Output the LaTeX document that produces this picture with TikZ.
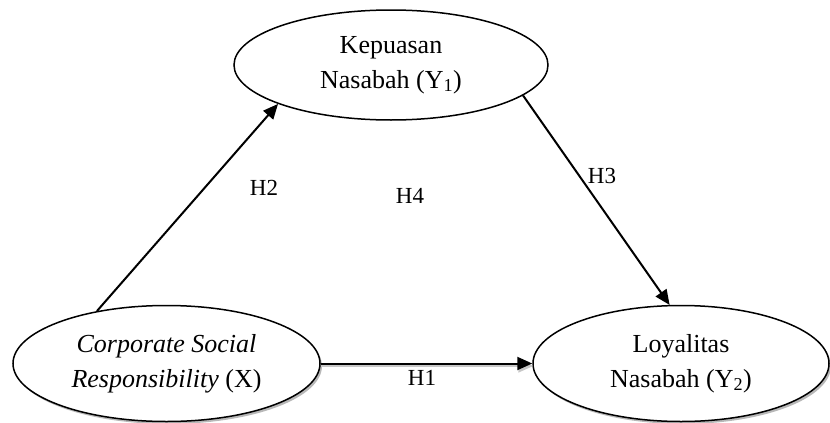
\documentclass[tikz,border=0pt]{standalone}
\usepackage{fontspec}
\setmainfont{Liberation Serif}
\usetikzlibrary{shapes.geometric,arrows.meta,shadows}
\begin{document}
\begin{tikzpicture}[x=1pt,y=-1pt,
  var/.style={ellipse,draw,line width=1.5pt,fill=white,inner sep=0pt,align=center,
    font=\fontsize{26}{35}\selectfont},
  shad/.style={drop shadow={shadow xshift=2pt,shadow yshift=-2.5pt,fill=black!28,opacity=1}},
  arr/.style={line width=2pt,-{Triangle[length=15pt,width=13pt]}},
  arrshadow/.style={line width=1.6pt,draw=black!22,-{Triangle[length=15pt,width=13pt]}},
  lab/.style={font=\fontsize{23}{28}\selectfont}]
\useasboundingbox (0,0) rectangle (830,423);
\node[var, minimum width=314pt, minimum height=110pt] (kep) at (391,65)
  {Kepuasan\\Nasabah (Y\textsubscript{1})};
\node[var, shad, minimum width=307pt, minimum height=116pt] (csr) at (166.5,363.5)
  {\textit{Corporate Social}\\\textit{Responsibility} (X)};
\node[var, shad, minimum width=296pt, minimum height=116pt] (loy) at (681,363.5)
  {Loyalitas\\Nasabah (Y\textsubscript{2})};
\coordinate (h1s) at ([yshift=-2.5pt]csr.east);
\coordinate (h1e) at ([yshift=-2.5pt,xshift=1pt]loy.west);
\draw[arrshadow] (h1s) -- (h1e);
\draw[arr] (csr.east) -- (loy.west);
\draw[arr] (csr.143.5) -- (kep.199.3);
\draw[arr] (kep.-13.4) -- (loy.101);
\node[lab] (lh1) at (422,378) {H1};
\node[lab] (lh2) at (264,188) {H2};
\node[lab] (lh3) at (602,176) {H3};
\node[lab] (lh4) at (410,196) {H4};
\end{tikzpicture}
\end{document}
